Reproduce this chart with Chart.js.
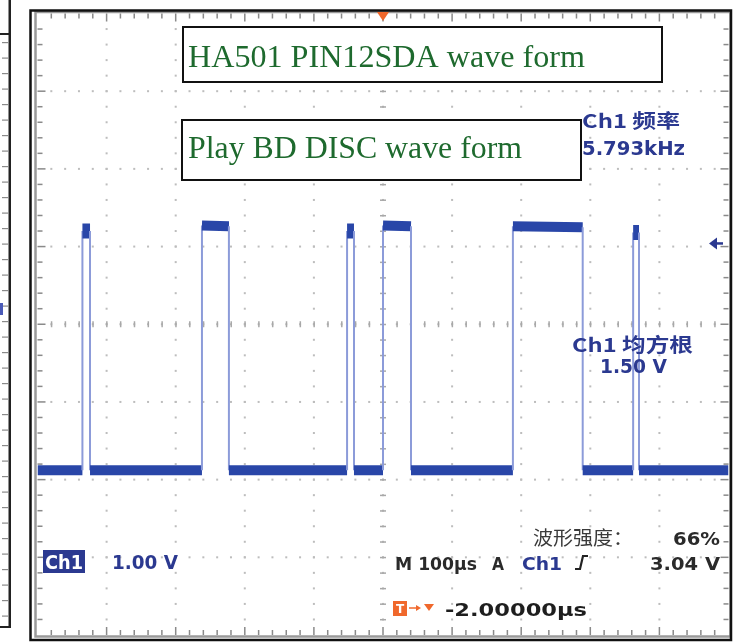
<!DOCTYPE html>
<html>
<head>
<meta charset="utf-8">
<script src="https://cdn.jsdelivr.net/npm/chart.js@4.4.1/dist/chart.umd.min.js"></script>
<style>
  html, body { margin: 0; padding: 0; background: #fff; }
  #wrap { width: 748px; height: 644px; position: relative; }
</style>
</head>
<body>
<div id="wrap"><canvas id="scope" width="748" height="644"></canvas></div>
<script>
// Ch1 SDA capture: 100 µs/div horizontal, 1.00 V/div vertical, trigger at t = 0
const TIME_US = [
  -500, -435, -435, -424, -424,
  -262, -262, -223, -223,
  -52, -52, -42, -42,
  0, 0, 40.5, 40.5,
  188, 188, 289, 289,
  362, 362, 370.5, 370.5,
  500
];
const VOLTS = [
  0.12, 0.12, 3.20, 3.20, 0.12,
  0.12, 3.27, 3.26, 0.12,
  0.12, 3.20, 3.20, 0.12,
  0.12, 3.27, 3.26, 0.12,
  0.12, 3.26, 3.25, 0.12,
  0.12, 3.18, 3.18, 0.12,
  0.12
];
const X_RANGE = [-500, 500];   // 10 divisions
const Y_RANGE = [-2, 6];       // 8 divisions
const X_DIVS = 10, Y_DIVS = 8, MINOR = 5;

// readouts
const TITLE_1 = 'HA501 PIN12SDA wave form';
const TITLE_2 = 'Play BD DISC wave form';
const FREQ_LABEL = 'Ch1 频率';
const FREQ_VALUE = '5.793kHz';
const RMS_LABEL = 'Ch1 均方根';
const RMS_VALUE = '1.50 V';
const CH_NAME = 'Ch1';
const CH_SCALE = '1.00 V';
const INTENSITY_LABEL = '波形强度：';
const INTENSITY_VALUE = '66%';
const TIMEBASE = 'M 100µs';
const TRIG_MODE = 'A';
const TRIG_LEVEL = '3.04 V';
const TRIG_POS = '-2.00000µs';

const TRACE = '#2946a8';
const EDGE = '#8c9bd9';
const NAVY = '#2b3990';
const GREEN = '#1e6a2e';
const ORANGE = '#f0682c';

const isEdge = c => c.p0.parsed.x === c.p1.parsed.x;
// short pulse tops smear into a taller blob on screen
const segWidth = c => {
  if (isEdge(c)) return 2;
  return (c.p1.parsed.x - c.p0.parsed.x) < 15 ? 15 : 10;
};

// draw text squeezed/stretched to a given width
function fitText(ctx, txt, x, y, w, font, color) {
  ctx.save();
  ctx.font = font;
  ctx.fillStyle = color;
  ctx.textBaseline = 'alphabetic';
  ctx.textAlign = 'left';
  const m = ctx.measureText(txt).width;
  ctx.translate(x, y);
  ctx.scale(w / m, 1);
  ctx.fillText(txt, 0, 0);
  ctx.restore();
}

const gridPlugin = {
  id: 'scopeGrid',
  beforeDatasetsDraw(chart) {
    const { ctx, chartArea: a, scales: { x, y } } = chart;
    const xs = (X_RANGE[1] - X_RANGE[0]) / X_DIVS;
    const ys = (Y_RANGE[1] - Y_RANGE[0]) / Y_DIVS;
    ctx.save();
    ctx.fillStyle = '#bdbdbd';
    // dotted vertical graticule lines
    for (let i = 1; i < X_DIVS; i++) {
      const px = x.getPixelForValue(X_RANGE[0] + i * xs);
      for (let k = 1; k < Y_DIVS * MINOR; k++) {
        const py = y.getPixelForValue(Y_RANGE[0] + k * ys / MINOR);
        ctx.fillRect(px - 1, py - 1, 2, 2);
      }
    }
    // dotted horizontal graticule lines
    for (let j = 1; j < Y_DIVS; j++) {
      const py = y.getPixelForValue(Y_RANGE[0] + j * ys);
      for (let k = 1; k < X_DIVS * MINOR; k++) {
        const px = x.getPixelForValue(X_RANGE[0] + k * xs / MINOR);
        ctx.fillRect(px - 1, py - 1, 2, 2);
      }
    }
    // centre crosshair minor ticks
    ctx.fillStyle = '#a8a8a8';
    const cx = x.getPixelForValue(0), cy = y.getPixelForValue((Y_RANGE[0] + Y_RANGE[1]) / 2);
    for (let k = 1; k < Y_DIVS * MINOR; k++) {
      const py = y.getPixelForValue(Y_RANGE[0] + k * ys / MINOR);
      ctx.fillRect(cx - 3, py - 0.5, 6, 1.5);
    }
    for (let k = 1; k < X_DIVS * MINOR; k++) {
      const px = x.getPixelForValue(X_RANGE[0] + k * xs / MINOR);
      ctx.fillRect(px - 0.5, cy - 3, 1.5, 6);
    }
    // edge ticks
    ctx.fillStyle = '#8a8a8a';
    for (let k = 1; k < Y_DIVS * MINOR; k++) {
      const py = y.getPixelForValue(Y_RANGE[0] + k * ys / MINOR);
      const len = k % MINOR === 0 ? 8 : 5;
      ctx.fillRect(a.left, py - 0.75, len, 1.5);
      ctx.fillRect(a.right - len, py - 0.75, len, 1.5);
    }
    for (let k = 1; k < X_DIVS * MINOR; k++) {
      const px = x.getPixelForValue(X_RANGE[0] + k * xs / MINOR);
      const len = k % MINOR === 0 ? 8 : 5;
      ctx.fillRect(px - 0.75, a.top, 1.5, len);
      ctx.fillRect(px - 0.75, a.bottom - len, 1.5, len);
    }
    ctx.restore();
  }
};

const overlayPlugin = {
  id: 'scopeOverlay',
  afterDraw(chart) {
    const { ctx, chartArea: a, scales: { x, y } } = chart;
    ctx.save();
    // screen frame
    ctx.strokeStyle = '#9a9a9a';
    ctx.lineWidth = 2.5;
    ctx.strokeRect(a.left - 2, a.top - 1.5, a.right - a.left + 4, a.bottom - a.top + 3);
    ctx.strokeStyle = '#111';
    ctx.lineWidth = 2.5;
    ctx.strokeRect(30.5, 10.5, 700.5, 629.5);

    // neighbouring panel edge on the far left
    ctx.fillStyle = '#222';
    ctx.fillRect(8.5, 0, 2.5, 628);
    ctx.fillRect(0, 33, 10, 2);
    ctx.fillRect(0, 626, 10, 2);
    ctx.fillStyle = '#8a8a8a';
    for (let py = 42; py < 625; py += 15.5) ctx.fillRect(2, py, 6, 1.2);
    ctx.fillStyle = '#4a5ab8';
    ctx.fillRect(0, 303, 3, 12);

    // trigger position marker (top) and trigger level arrow (right)
    const tx = x.getPixelForValue(0);
    ctx.fillStyle = ORANGE;
    ctx.beginPath();
    ctx.moveTo(tx - 6, 12); ctx.lineTo(tx + 6, 12); ctx.lineTo(tx, 21); ctx.closePath(); ctx.fill();
    const ly = y.getPixelForValue(3.04);
    ctx.strokeStyle = NAVY; ctx.fillStyle = NAVY; ctx.lineWidth = 2.5;
    ctx.beginPath(); ctx.moveTo(723, ly); ctx.lineTo(714, ly); ctx.stroke();
    ctx.beginPath(); ctx.moveTo(709, ly); ctx.lineTo(717, ly - 6); ctx.lineTo(717, ly + 6); ctx.closePath(); ctx.fill();

    // annotation boxes
    ctx.fillStyle = '#fff';
    ctx.strokeStyle = '#111';
    ctx.lineWidth = 2;
    ctx.fillRect(183, 27, 479, 55); ctx.strokeRect(183, 27, 479, 55);
    ctx.fillRect(182, 120, 399, 60); ctx.strokeRect(182, 120, 399, 60);
    const serif = '31px "Liberation Serif", "DejaVu Serif", serif';
    fitText(ctx, TITLE_1, 188, 67, 397, serif, GREEN);
    fitText(ctx, TITLE_2, 188, 158, 334, serif, GREEN);

    // measurement readouts
    const bold = 'bold 19px "DejaVu Sans", "Noto Sans CJK SC", sans-serif';
    const boldCJK = 'bold 19px "Noto Sans CJK SC", "DejaVu Sans", sans-serif';
    fitText(ctx, FREQ_LABEL, 582, 128, 98, boldCJK, NAVY);
    fitText(ctx, FREQ_VALUE, 582, 155, 103, bold, NAVY);
    fitText(ctx, RMS_LABEL, 572, 352, 121, boldCJK, NAVY);
    fitText(ctx, RMS_VALUE, 600, 373, 67, bold, NAVY);

    // channel readout
    ctx.fillStyle = NAVY;
    ctx.fillRect(43, 550, 42, 23);
    fitText(ctx, CH_NAME, 45, 569, 38, bold, '#fff');
    fitText(ctx, CH_SCALE, 112, 569, 66, bold, NAVY);

    // intensity + timebase + trigger readouts
    const sans = '19px "Noto Sans CJK SC", "DejaVu Sans", sans-serif';
    const sansB = 'bold 18px "DejaVu Sans", sans-serif';
    fitText(ctx, INTENSITY_LABEL, 533, 545, 100, sans, '#3a3a3a');
    fitText(ctx, INTENSITY_VALUE, 673, 545, 47, sansB, '#2a2a2a');
    fitText(ctx, TIMEBASE, 395, 570, 82, sansB, '#2a2a2a');
    fitText(ctx, TRIG_MODE, 492, 570, 12, sansB, '#2a2a2a');
    fitText(ctx, CH_NAME, 522, 570, 40, sansB, NAVY);
    fitText(ctx, TRIG_LEVEL, 650, 570, 70, sansB, '#2a2a2a');
    // rising-edge trigger symbol
    ctx.strokeStyle = '#222'; ctx.lineWidth = 2.2;
    ctx.beginPath();
    ctx.moveTo(575, 569); ctx.lineTo(580, 569); ctx.lineTo(583, 556); ctx.lineTo(588, 556);
    ctx.stroke();

    // trigger position readout
    ctx.fillStyle = ORANGE;
    ctx.fillRect(393, 601, 14, 15);
    ctx.fillStyle = '#fff';
    ctx.font = 'bold 12px "DejaVu Sans", sans-serif';
    ctx.fillText('T', 396, 613);
    ctx.strokeStyle = ORANGE; ctx.lineWidth = 1.5;
    ctx.beginPath(); ctx.moveTo(409, 608); ctx.lineTo(419, 608); ctx.stroke();
    ctx.fillStyle = ORANGE;
    ctx.beginPath(); ctx.moveTo(421, 608); ctx.lineTo(416, 605); ctx.lineTo(416, 611); ctx.closePath(); ctx.fill();
    ctx.beginPath(); ctx.moveTo(424, 604); ctx.lineTo(434, 604); ctx.lineTo(429, 611); ctx.closePath(); ctx.fill();
    fitText(ctx, TRIG_POS, 445, 616, 142, sansB, '#1e1e1e');
    ctx.restore();
  }
};

new Chart(document.getElementById('scope'), {
  type: 'line',
  data: {
    datasets: [{
      data: TIME_US.map((t, i) => ({ x: t, y: VOLTS[i] })),
      borderColor: TRACE,
      borderWidth: 10,
      borderCapStyle: 'butt',
      borderJoinStyle: 'miter',
      pointRadius: 0,
      tension: 0,
      fill: false,
      segment: {
        borderWidth: segWidth,
        borderColor: c => isEdge(c) ? EDGE : TRACE
      }
    }]
  },
  options: {
    responsive: false,
    animation: false,
    devicePixelRatio: 1,
    layout: { padding: { left: 37.5, right: 19.5, top: 13.5, bottom: 9 } },
    plugins: { legend: { display: false }, tooltip: { enabled: false } },
    scales: {
      x: { type: 'linear', min: X_RANGE[0], max: X_RANGE[1], display: false },
      y: { type: 'linear', min: Y_RANGE[0], max: Y_RANGE[1], display: false }
    }
  },
  plugins: [gridPlugin, overlayPlugin]
});
</script>
</body>
</html>
